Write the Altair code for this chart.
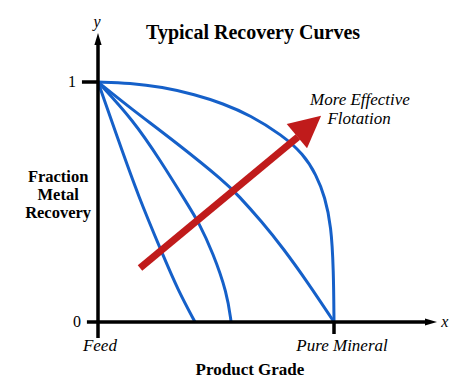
import altair as alt
import pandas as pd

# ---- data (x: Feed=0 .. Pure Mineral=1, y: recovery 0..1) ----
curve1_x = [0, 0.089, 0.169, 0.275, 0.339, 0.411]
curve1_y = [1, 0.75, 0.529, 0.279, 0.133, 0]
curve2_x = [0, 0.148, 0.263, 0.381, 0.428, 0.487, 0.547, 0.564]
curve2_y = [1, 0.842, 0.675, 0.488, 0.413, 0.288, 0.121, 0]
curve3_x = [0, 0.136, 0.339, 0.538, 0.593, 0.695, 0.784, 0.89, 1.0]
curve3_y = [1, 0.892, 0.742, 0.583, 0.529, 0.417, 0.308, 0.163, 0]
curve4_x = [0, 0.136, 0.271, 0.411, 0.530, 0.644, 0.780, 0.870, 0.925, 0.962, 0.988, 0.998, 1.0]
curve4_y = [1, 0.996, 0.979, 0.948, 0.910, 0.862, 0.779, 0.700, 0.613, 0.520, 0.400, 0.220, 0]

# red "more effective" arrow (tail -> head base), head centre
arrow_x = [0.178, 0.847]
arrow_y = [0.225, 0.771]
arrow_head = (0.894, 0.817)

# axis extents
y_axis_ext = [-0.067, 1.175]
x_axis_ext = [-0.047, 1.40]
y_tick_values = [1, 0]
y_tick_labels = ["1", "0"]
x_tick_labels = ["Feed", "Pure Mineral"]
x_tick_values = [0.008, 1.034]

title_text = "Typical Recovery Curves"
y_title_lines = ["Fraction", "Metal", "Recovery"]
x_title = "Product Grade"
annot_lines = ["More Effective", "Flotation"]

BLUE = "#1560c9"
RED = "#c01b1b"
FONT = "Liberation Serif"

xs = alt.Scale(domain=[-0.38136, 1.55932], nice=False, zero=False)
ys = alt.Scale(domain=[-0.25417, 1.30833], nice=False, zero=False)

rows = []
for cid, (cx, cy) in enumerate([(curve1_x, curve1_y), (curve2_x, curve2_y),
                                  (curve3_x, curve3_y), (curve4_x, curve4_y)]):
    for i, (a, b) in enumerate(zip(cx, cy)):
        rows.append({"curve": cid, "o": i, "x": a, "y": b})
curves_df = pd.DataFrame(rows)

def X(f="x", **kw):
    return alt.X(f, type="quantitative", scale=xs, axis=None, **kw)

def Y(f="y", **kw):
    return alt.Y(f, type="quantitative", scale=ys, axis=None, **kw)

curves = alt.Chart(curves_df).mark_line(
    interpolate="basis", strokeWidth=3, color=BLUE
).encode(x=X(), y=Y(), detail="curve:N", order="o:Q")

axes_df = pd.DataFrame([
    {"x": 0, "x2": 0, "y": y_axis_ext[0], "y2": y_axis_ext[1]},
    {"x": x_axis_ext[0], "x2": x_axis_ext[1], "y": 0, "y2": 0},
    {"x": -0.068, "x2": 0, "y": 1, "y2": 1},
    {"x": 1, "x2": 1, "y": 0, "y2": -0.05},
])
axes = alt.Chart(axes_df).mark_rule(color="black", strokeWidth=3.5).encode(
    x=X(), x2="x2:Q", y=Y(), y2="y2:Q")

small_head = "M0,-1L0.6,1L-0.6,1Z"
y_arrow = alt.Chart(pd.DataFrame({"x": [0], "y": [1.179]})).mark_point(
    shape=small_head, filled=True, opacity=1, size=144, color="black", angle=0
).encode(x=X(), y=Y())
x_arrow = alt.Chart(pd.DataFrame({"x": [1.411], "y": [0]})).mark_point(
    shape=small_head, filled=True, opacity=1, size=144, color="black", angle=90
).encode(x=X(), y=Y())

shaft = alt.Chart(pd.DataFrame({"x": arrow_x, "y": arrow_y, "o": [0, 1]})).mark_line(
    color=RED, strokeWidth=7, strokeCap="butt"
).encode(x=X(), y=Y(), order="o:Q")
head = alt.Chart(pd.DataFrame({"x": [arrow_head[0]], "y": [arrow_head[1]]})).mark_point(
    shape="M0,-1L1,1L-1,1Z", filled=True, opacity=1, size=1000, color=RED, angle=50
).encode(x=X(), y=Y())

def text_layer(df, size, weight="normal", style="normal", align="center"):
    return alt.Chart(df).mark_text(
        font=FONT, fontSize=size, fontWeight=weight, fontStyle=style,
        align=align, baseline="middle", color="black"
    ).encode(x=X(), y=Y(), text="t:N")

title = text_layer(pd.DataFrame({"x": [0.657], "y": [1.204], "t": [title_text]}), 20, weight="bold")
ytitle = text_layer(pd.DataFrame({"x": [-0.169] * 3, "y": [0.604, 0.529, 0.454], "t": y_title_lines}), 16.5, weight="bold")
xtitle = text_layer(pd.DataFrame({"x": [0.644], "y": [-0.2], "t": [x_title]}), 17, weight="bold")
ylabels = text_layer(pd.DataFrame({"x": [-0.093, -0.072], "y": y_tick_values, "t": y_tick_labels}), 16, align="right")
xlabels = text_layer(pd.DataFrame({"x": x_tick_values, "y": [-0.1, -0.1], "t": x_tick_labels}), 17, style="italic")
annot = text_layer(pd.DataFrame({"x": [1.11, 1.106], "y": [0.925, 0.846], "t": annot_lines}), 17, style="italic")
axis_names = text_layer(pd.DataFrame({"x": [-0.004, 1.47], "y": [1.25, 0.0], "t": ["y", "x"]}), 16, style="italic")

chart = alt.layer(
    curves, axes, y_arrow, x_arrow, shaft, head,
    title, ytitle, xtitle, ylabels, xlabels, annot, axis_names
).properties(
    width=458, height=375, padding=0,
    autosize=alt.AutoSizeParams(type="none")
).configure_view(stroke=None)

chart.save("out.html", embed_options={"renderer": "svg", "actions": False})
